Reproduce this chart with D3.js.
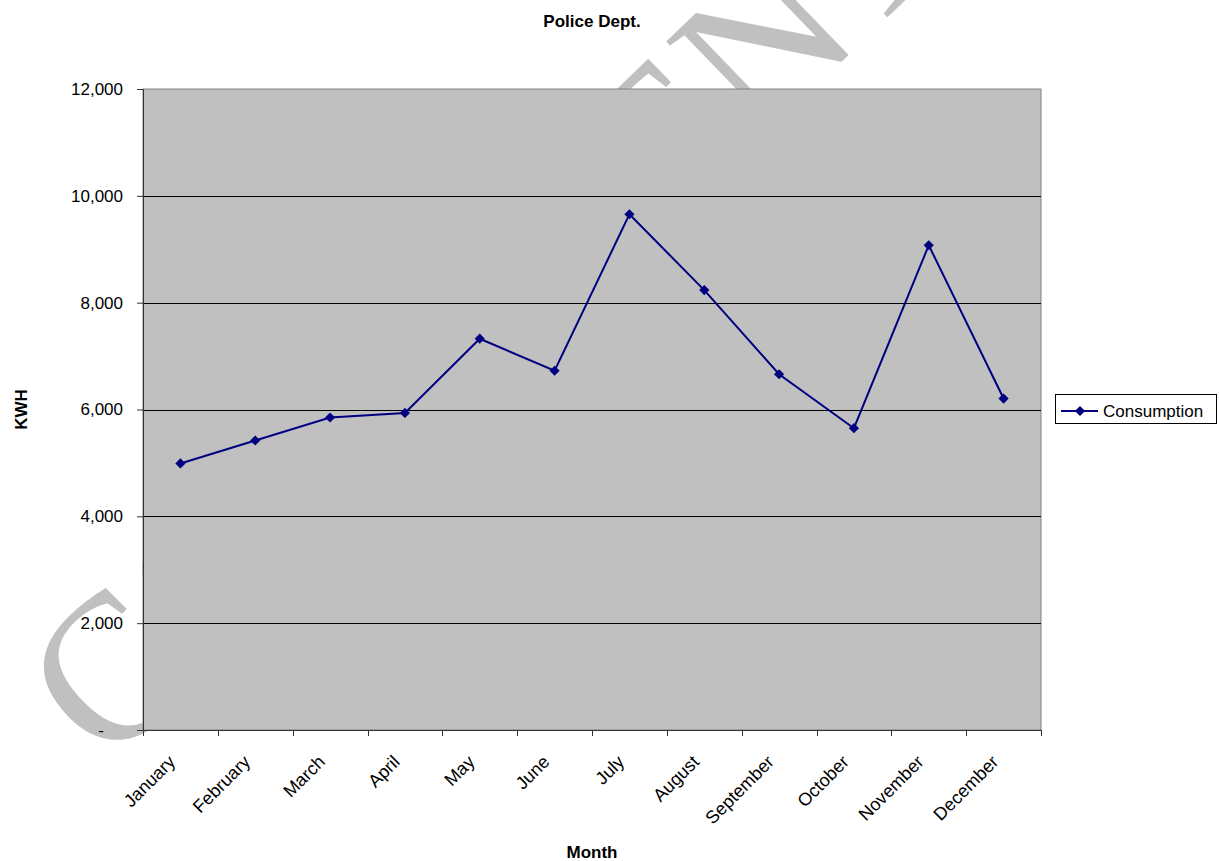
<!DOCTYPE html>
<html>
<head>
<meta charset="utf-8">
<script src="https://cdn.jsdelivr.net/npm/d3@7"></script>
<style>
  body { margin: 0; background: #fff; }
  text { font-family: Arial, "Liberation Sans", sans-serif; }
</style>
</head>
<body>
<div id="vis"></div>
<script>
var months = ['January', 'February', 'March', 'April', 'May', 'June',
              'July', 'August', 'September', 'October', 'November', 'December'];
var consumption = [4990, 5420, 5850, 5935, 7325, 6725, 9655, 8235, 6660, 5650, 9075, 6205];
var yTicks = [0, 2000, 4000, 6000, 8000, 10000, 12000];
var seriesName = 'Consumption';

var width = 1219;
var height = 861;
var margin = { top: 89, right: 178, bottom: 131, left: 143 };

var plotLeft = margin.left;
var plotRight = width - margin.right;
var plotTop = margin.top;
var plotBottom = height - margin.bottom;

var svg = d3.select('#vis')
            .append('svg')
            .attr('width', width)
            .attr('height', height);

// watermark behind everything
svg.append('text')
    .attr('transform', 'translate(108, 770) rotate(-44)')
    .style('font-family', '"Liberation Serif", "DejaVu Serif", serif')
    .style('font-size', '208px')
    .attr('fill', '#c0c0c0')
    .text('CONFIDENTIAL');

var x = d3.scaleBand()
            .domain(months)
            .range([plotLeft, plotRight]);

var y = d3.scaleLinear()
            .domain([0, 12000])
            .range([plotBottom, plotTop]);

// plot area
svg.append('rect')
    .attr('x', plotLeft)
    .attr('y', plotTop)
    .attr('width', plotRight - plotLeft)
    .attr('height', plotBottom - plotTop)
    .attr('fill', '#c0c0c0')
    .attr('stroke', '#808080')
    .attr('stroke-width', 1);

// gridlines
svg.append('g')
    .selectAll('line')
    .data(yTicks.filter(function(d) { return d > 0 && d < 12000; }))
    .enter()
    .append('line')
    .attr('x1', plotLeft)
    .attr('x2', plotRight)
    .attr('y1', function(d) { return Math.round(y(d)) + 0.5; })
    .attr('y2', function(d) { return Math.round(y(d)) + 0.5; })
    .attr('stroke', '#000')
    .attr('stroke-width', 1);

// y axis
var yAxis = d3.axisLeft(y)
                .tickValues(yTicks)
                .tickSize(6)
                .tickPadding(14)
                .tickFormat(function(d) { return d === 0 ? '-' : d3.format(',')(d); });

var yAxisG = svg.append('g')
                .attr('transform', 'translate(' + plotLeft + ', 0)')
                .call(yAxis);
yAxisG.select('.domain').attr('stroke', '#333');
yAxisG.selectAll('.tick line').attr('stroke', '#333');
yAxisG.selectAll('.tick text')
    .style('font-size', '17px')
    .attr('fill', '#000')
    .attr('dx', function(d) { return d === 0 ? -19 : 0; });

// x axis
var xAxis = d3.axisBottom(x)
                .tickSize(0)
                .tickPadding(0);

var xAxisG = svg.append('g')
                .attr('transform', 'translate(0, ' + plotBottom + ')')
                .call(xAxis);
xAxisG.select('.domain').attr('stroke', '#333');
xAxisG.selectAll('.tick text')
    .style('font-size', '18px')
    .attr('fill', '#000')
    .attr('text-anchor', 'end')
    .attr('dy', null)
    .attr('y', null)
    .attr('transform', 'translate(-4, 33) rotate(-45)');

var boundaries = months.map(function(m) { return x(m); }).concat([plotRight]);
svg.append('g')
    .selectAll('line')
    .data(boundaries)
    .enter()
    .append('line')
    .attr('x1', function(d) { return Math.round(d) + 0.5; })
    .attr('x2', function(d) { return Math.round(d) + 0.5; })
    .attr('y1', plotBottom)
    .attr('y2', plotBottom + 6)
    .attr('stroke', '#333');

// series line
var line = d3.line()
                .x(function(d, i) { return x(months[i]) + x.bandwidth() / 2; })
                .y(function(d) { return y(d); });

svg.append('path')
    .datum(consumption)
    .attr('d', line)
    .attr('fill', 'none')
    .attr('stroke', '#000080')
    .attr('stroke-width', 2);

var marker = d3.symbol().type(d3.symbolSquare).size(52);

svg.append('g')
    .selectAll('path')
    .data(consumption)
    .enter()
    .append('path')
    .attr('d', marker)
    .attr('transform', function(d, i) {
        return 'translate(' + (x(months[i]) + x.bandwidth() / 2) + ', ' + y(d) + ') rotate(45)';
    })
    .attr('fill', '#000080');

// titles
svg.append('text')
    .attr('x', (plotLeft + plotRight) / 2)
    .attr('y', 27)
    .attr('text-anchor', 'middle')
    .style('font-size', '17px')
    .style('font-weight', 'bold')
    .text('Police Dept.');

svg.append('text')
    .attr('x', (plotLeft + plotRight) / 2)
    .attr('y', 858)
    .attr('text-anchor', 'middle')
    .style('font-size', '17px')
    .style('font-weight', 'bold')
    .text('Month');

svg.append('text')
    .attr('transform', 'translate(27, ' + ((plotTop + plotBottom) / 2) + ') rotate(-90)')
    .attr('text-anchor', 'middle')
    .style('font-size', '17px')
    .style('font-weight', 'bold')
    .text('KWH');

// legend
var legend = svg.append('g')
                .attr('transform', 'translate(1055, 394)');

legend.append('rect')
    .attr('x', 0.5)
    .attr('y', 0.5)
    .attr('width', 161)
    .attr('height', 29)
    .attr('fill', '#fff')
    .attr('stroke', '#000');

legend.append('line')
    .attr('x1', 6)
    .attr('x2', 43)
    .attr('y1', 17)
    .attr('y2', 17)
    .attr('stroke', '#000080')
    .attr('stroke-width', 2);

legend.append('path')
    .attr('d', marker)
    .attr('transform', 'translate(25, 17) rotate(45)')
    .attr('fill', '#000080');

legend.append('text')
    .attr('x', 48)
    .attr('y', 23)
    .style('font-size', '17px')
    .text(seriesName);
</script>
</body>
</html>
